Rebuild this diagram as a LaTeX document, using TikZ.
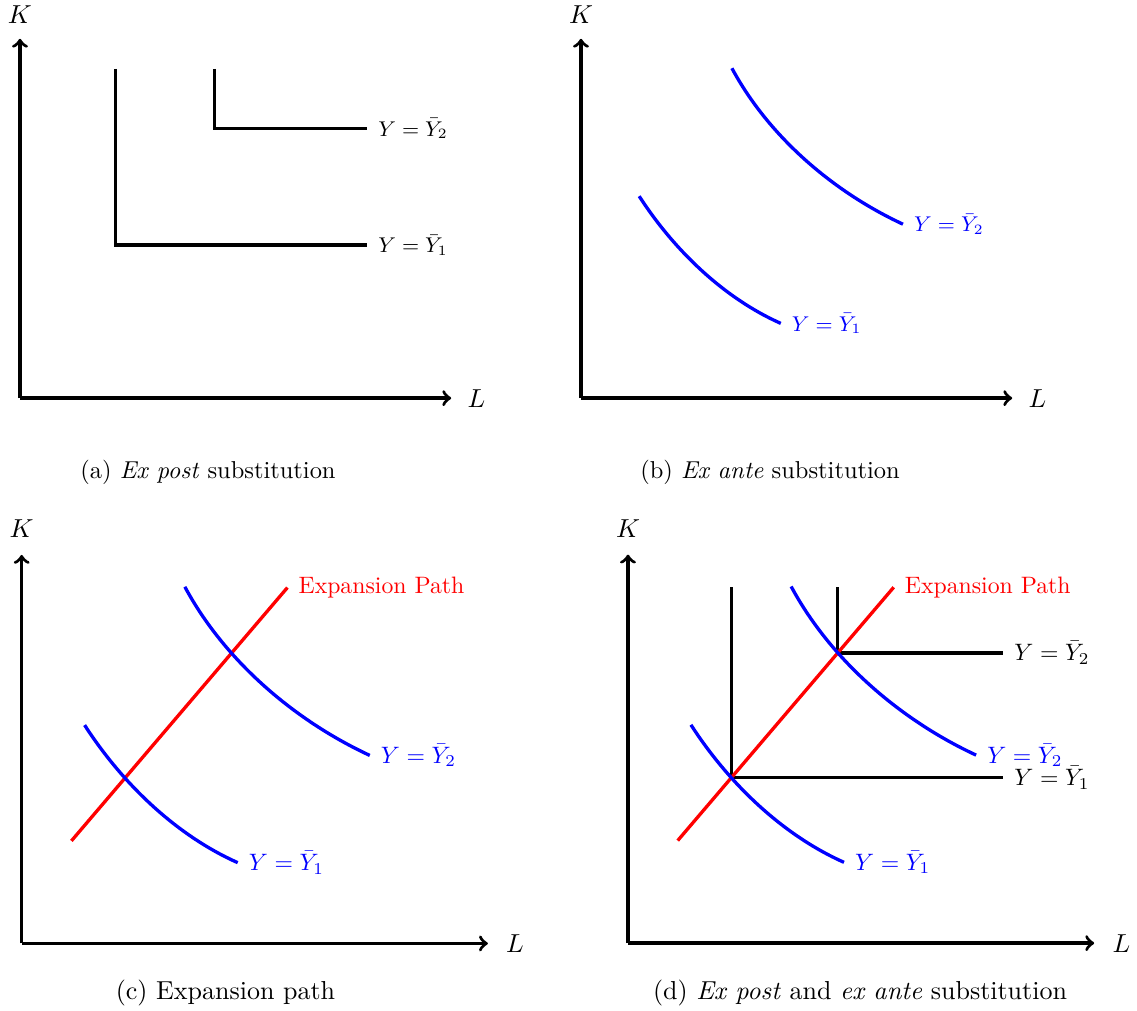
\documentclass[tikz,border=0pt]{standalone}
\usetikzlibrary{intersections,backgrounds}
\tikzset{
  axline/.style ={->, line width=1.4pt},
  leon/.style   ={line width=1.4pt},
  isoq/.style   ={blue, line width=1.4pt},
  expath/.style ={red, line width=1.4pt},
  qlab/.style   ={right, inner sep=4pt},
  axlab/.style  ={font=\fontsize{10.95}{13}\selectfont},
  subcap/.style ={font=\fontsize{10.95}{13}\selectfont},
  topcap/.style ={font=\fontsize{10.3}{12}\selectfont},
  small/.style  ={scale=0.925,
                  qlab/.append style={font=\fontsize{9.25}{11}\selectfont}},
}
\begin{document}
\begin{tikzpicture}[x=1.15cm, y=1.15cm]
\useasboundingbox (0,0) rectangle (14.633,13);

\begin{scope}[shift={(0.257,7.876)}, small]
  \draw[axline] (0,0) -- (0,5);
  \draw[axline] (0,0) -- (6,0);
  \node[axlab] (Ka) at (0,5.34) {$K$};
  \node[axlab] (La) at (6.35,0) {$L$};
  \coordinate (A1) at (1.33,2.13);
  \coordinate (A2) at (2.71,3.75);
  \draw[leon] (A1 |- 0,4.58) -- (A1) -- (A1 -| 4.83,0) node[qlab] (q1a) {$Y=\bar{Y}_1$};
  \draw[leon] (A2 |- 0,4.58) -- (A2) -- (A2 -| 4.83,0) node[qlab] (q2a) {$Y=\bar{Y}_2$};
\end{scope}

\begin{scope}[shift={(7.477,7.876)}, small]
  \draw[axline] (0,0) -- (0,5);
  \draw[axline] (0,0) -- (6,0);
  \node[axlab] (Kb) at (0,5.34) {$K$};
  \node[axlab] (Lb) at (6.35,0) {$L$};
  \draw[isoq] (0.81,2.81) .. controls (1.28,2.08) and (1.97,1.40) .. (2.78,1.04)
    node[qlab] (q1b) {$Y=\bar{Y}_1$};
  \draw[isoq] (2.10,4.59) .. controls (2.61,3.64) and (3.51,2.87) .. (4.48,2.42)
    node[qlab] (q2b) {$Y=\bar{Y}_2$};
\end{scope}

\begin{scope}[shift={(0.279,0.858)}]
  \draw[axline] (0,0) -- (0,5);
  \draw[axline] (0,0) -- (6,0);
  \node[axlab] (Kc) at (0,5.34) {$K$};
  \node[axlab] (Lc) at (6.35,0) {$L$};
  \draw[expath] (0.64,1.32) -- (3.42,4.58) node[qlab] (epc) {Expansion Path};
  \draw[isoq] (0.81,2.81) .. controls (1.28,2.08) and (1.97,1.40) .. (2.78,1.04)
    node[qlab] (q1c) {$Y=\bar{Y}_1$};
  \draw[isoq] (2.10,4.59) .. controls (2.61,3.64) and (3.51,2.87) .. (4.48,2.42)
    node[qlab] (q2c) {$Y=\bar{Y}_2$};
\end{scope}

\begin{scope}[shift={(8.082,0.862)}]
  \draw[axline] (0,0) -- (0,5);
  \draw[axline] (0,0) -- (6,0);
  \node[axlab] (Kd) at (0,5.34) {$K$};
  \node[axlab] (Ld) at (6.35,0) {$L$};
  \draw[expath, name path=epd] (0.64,1.32) -- (3.42,4.58) node[qlab] (epd) {Expansion Path};
  \draw[isoq, name path=q1d] (0.81,2.81) .. controls (1.28,2.08) and (1.97,1.40) .. (2.78,1.04)
    node[qlab] (q1d) {$Y=\bar{Y}_1$};
  \draw[isoq, name path=q2d] (2.10,4.59) .. controls (2.61,3.64) and (3.51,2.87) .. (4.48,2.42)
    node[qlab] (q2d) {$Y=\bar{Y}_2$};
  \path[name intersections={of=epd and q1d, by=D1}];
  \path[name intersections={of=epd and q2d, by=D2}];
  \begin{scope}[on background layer]
    \draw[leon] (D1 |- 0,4.58) -- (D1) -- (D1 -| 4.83,0) node[qlab] (l1d) {$Y=\bar{Y}_1$};
    \draw[leon] (D2 |- 0,4.58) -- (D2) -- (D2 -| 4.83,0) node[qlab] (l2d) {$Y=\bar{Y}_2$};
  \end{scope}
\end{scope}

\node[topcap] (capa) at (2.677,6.924) {(a) \emph{Ex post} substitution};
\node[topcap] (capb) at (9.910,6.924) {(b) \emph{Ex ante} substitution};
\node[subcap] (capc) at (2.902,0.219) {(c) Expansion path};
\node[subcap] (capd) at (11.068,0.219) {(d) \emph{Ex post} and \emph{ex ante} substitution};

\end{tikzpicture}
\end{document}
